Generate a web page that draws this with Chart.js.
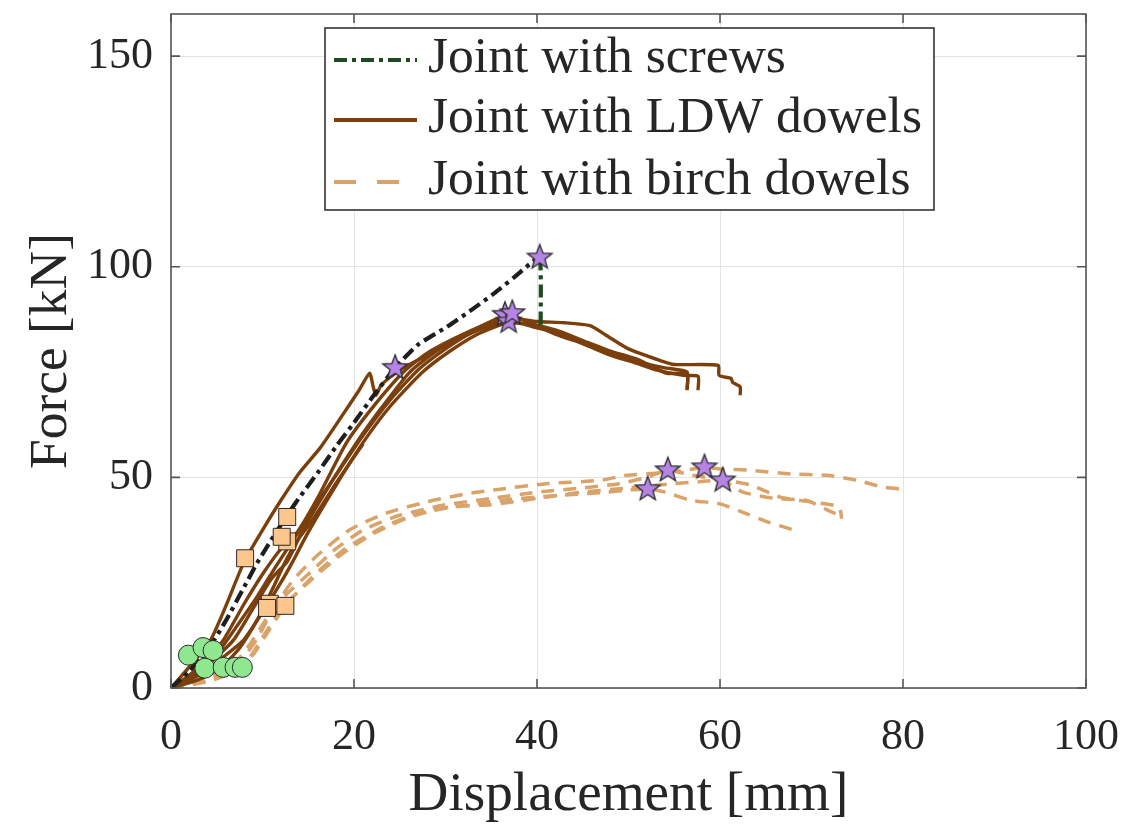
<!DOCTYPE html>
<html><head><meta charset="utf-8">
<script src="https://cdn.jsdelivr.net/npm/chart.js@4.4.0/dist/chart.umd.min.js"></script>
<style>html,body{margin:0;padding:0;background:#fff;}#wrap{width:1127px;height:826px;}</style>
</head><body><div id="wrap"><canvas id="c" width="1127" height="826"></canvas></div>
<script>
// ---------- data ----------
const xTicks = [0, 20, 40, 60, 80, 100];
const yTicks = [0, 50, 100, 150];
const xTitle = 'Displacement [mm]';
const yTitle = 'Force [kN]';
const legendLabels = ['Joint with screws', 'Joint with LDW dowels', 'Joint with birch dowels'];

const screws = [[0,0],[2,4],[4,9],[6,16],[8,24],[9.5,30],[11.5,37],[13.7,44.2],[16,51],[18.1,57.5],[20,63],[22,69],[24.5,76],[27,81.5],[30.2,85.8],[33,90],[35.2,93.5],[37.5,97.5],[39.2,100.6],[40.3,102.2],[40.4,85.5]];

const ldw1 = [[0,0],[2,5],[4.3,11.3],[6,19.5],[8,30],[10,37.5],[12,44.5],[14,51],[16.3,57],[18.5,64],[20.5,70.5],[21.7,74.7],[22.1,71.5],[22.4,69.5],[23,72],[25,75.5],[28,79],[31,82.5],[34,86],[36.5,88.3],[38,87.8],[40,86],[42,84],[44.7,82],[48,79.5],[51,77.5],[54,76],[56.4,75],[56.4,70.7]];
const ldw2 = [[0,0],[2,3],[4,7],[5.7,11.3],[8,20],[10,27],[12,33],[13.8,37],[16,45],[19.2,58.3],[22,66.5],[25.4,75],[28,79.5],[31,83],[34,86],[36.8,87.8],[40,87],[43,86.7],[45.8,86],[47.5,83.8],[50,80.5],[53.4,77.8],[55,76.8],[59.8,76.6],[59.9,74.2],[61.2,73.5],[61.4,72.5],[62.2,71.5],[62.2,69.5]];
const ldw3 = [[0,0],[2.5,3],[4.5,6.5],[6.8,11.3],[9,19],[11,26],[12.7,30],[14.3,37],[17,47],[20.3,58.3],[23,66.5],[26.1,75],[29,80],[32,83.5],[35,86],[37.2,87],[40,85.5],[42.8,84],[45.8,81],[48,79],[51,77],[53,75.5],[56,74.2],[57.6,74],[57.6,70.7]];
const ldw4 = [[0,0],[3,3],[5.5,7],[7.9,11.3],[10,18],[12,25],[13.3,30],[15,37],[18,48],[21,58.3],[24,67],[27.5,75],[30.5,80],[33.5,84],[36.5,86.5],[39,86.5],[42,85],[45,82.5],[48,80],[51,78],[54.2,74.7],[56.4,74.7],[56.4,70.9]];
const ldw5 = [[0,0],[2.5,2.5],[5,8],[7.3,15],[9.5,22],[11.5,29],[13.6,36],[16,44],[18.5,52],[21,60],[24,68.5],[27,75.5],[30,80.5],[33,84.5],[36,87],[37.5,87.5]];
const ldw6 = [[0,0],[3,2],[5.5,5],[7.5,9.5],[9.5,16.5],[11.2,24],[12.5,30],[13.8,35],[15.5,40],[18,48.5],[21,58]];

const birch1 = [[0,0],[2.5,1.5],[5,3.5],[7,6],[8.5,10],[10,15],[11.5,20],[13.5,26],[16,31.5],[19.5,37.5],[23.5,41.5],[28,44.2],[32,46],[36,47.2],[41,48.5],[46.9,49.3],[49.8,50.5],[53,51],[55.6,51.5],[58.3,52.4],[60,52],[63.3,51.7],[67.7,50.8],[71.7,50.5],[75,49.3],[77.8,47.7],[80,47.2]];
const birch2 = [[0,0],[3,1.5],[6,4],[8,7.5],[9.5,12],[11,18],[12.5,22],[15,27],[18,33],[21,37.5],[25,41],[30,43.5],[35,45],[40,46.5],[45,47.5],[49,48.5],[52,50],[54.3,51.7],[57,50.5],[60,49.5],[63.3,48.2],[66.6,45.3],[69.8,44.2],[73,43],[73.3,40.2]];
const birch3 = [[0,0],[3.5,1.5],[6.5,3.5],[8.5,7],[10,12],[11.5,17],[13,21],[15.5,26],[18.5,31.5],[22,36.5],[26,40.5],[30.5,43],[34.9,43.5],[40,45],[45,46.5],[50,47.5],[55,48.5],[58,49],[60.3,49.3],[62.5,46.5],[66,45],[69.5,44.5],[71.7,42.3],[73.5,40.5]];
const birch4 = [[0,0],[4,1.5],[7,4],[9,8],[10.5,13],[12,18],[13.5,22],[16,27.5],[19,33],[23,38],[27,41.5],[31,43],[36,44.5],[41,45.5],[47.7,46.5],[50,47],[52.1,47.2],[54,46.5],[56.7,44.6],[60,43.7],[63,41.3],[65.1,39.5],[67.9,37.6]];

const starPts = [[24.5,76],[40.3,102.2],[36.5,88.6],[36.9,87.0],[37.3,89.0],[52.1,47.2],[54.3,51.7],[58.3,52.4],[60.3,49.3]];
const squarePts = [[8.1,30.8],[12.7,40.6],[12.7,34.8],[12.1,35.9],[10.8,20.0],[12.5,19.5],[10.5,19.0]];
const circlePts = [[1.9,7.8],[3.5,9.6],[4.6,8.9],[3.7,4.7],[5.7,4.9],[7.0,4.9],[7.8,4.9]];

// ---------- style ----------
const FAM = "'Liberation Serif', 'Times New Roman', serif";
const TXT = '#262626';
const C_SCREW = '#1e1e1e', C_SCREW_G = '#1f4a22';
const C_LDW = '#7a3f0c', C_BIRCH = '#d9a36a';

const mctx = document.createElement('canvas').getContext('2d');
function fit(text, target) { mctx.font = '100px ' + FAM; return 100 * target / mctx.measureText(text).width; }
const sXT = fit(xTitle, 440), sYT = fit(yTitle, 236), sTick = fit('150', 66), sLeg = fit(legendLabels[1], 494);

function makeStar(R) {
  const cv = document.createElement('canvas'); const s = Math.ceil(2 * R + 4);
  cv.width = s; cv.height = s; const c = cv.getContext('2d');
  c.beginPath();
  for (let i = 0; i < 10; i++) {
    const r = i % 2 === 0 ? R : R * 0.42; const a = -Math.PI / 2 + i * Math.PI / 5;
    const px = s / 2 + r * Math.cos(a), py = s / 2 + r * Math.sin(a);
    i === 0 ? c.moveTo(px, py) : c.lineTo(px, py);
  }
  c.closePath(); c.fillStyle = '#b684e4'; c.fill(); c.lineWidth = 1.3; c.strokeStyle = '#2a2a2a'; c.stroke();
  return cv;
}
const starImg = makeStar(13);

const pts = a => a.map(p => ({x: p[0], y: p[1]}));
const curve = (arr, color, dash, w, order) => ({data: pts(arr), showLine: true, borderColor: color, borderWidth: w, borderDash: dash, pointRadius: 0, tension: 0.2, order: order, fill: false});

const datasets = [
  {data: pts(starPts), pointStyle: starImg, pointRadius: 13, order: 0},
  {data: pts(squarePts), pointStyle: 'rect', pointRadius: 12, backgroundColor: '#fcc68c', borderColor: '#2a2a2a', borderWidth: 1, order: 0},
  {data: pts(circlePts), pointStyle: 'circle', pointRadius: 10, backgroundColor: '#8fe88f', borderColor: '#2a2a2a', borderWidth: 1, order: 0},
  Object.assign(curve(screws, C_SCREW, [13, 5, 4, 5], 4.2, 1), {segment: {borderColor: c => Math.abs(c.p1.parsed.x - c.p0.parsed.x) < 0.5 ? C_SCREW_G : C_SCREW}}),
  curve(ldw1, C_LDW, [], 3.4, 2), curve(ldw2, C_LDW, [], 3.4, 2), curve(ldw3, C_LDW, [], 3.4, 2), curve(ldw4, C_LDW, [], 3.4, 2), curve(ldw5, C_LDW, [], 3.4, 2), curve(ldw6, C_LDW, [], 3.4, 2),
  curve(birch1, C_BIRCH, [13, 9], 3.5, 3), curve(birch2, C_BIRCH, [13, 9], 3.5, 3), curve(birch3, C_BIRCH, [13, 9], 3.5, 3), curve(birch4, C_BIRCH, [13, 9], 3.5, 3)
];

const framePlugin = {
  id: 'frame',
  afterDatasetsDraw(chart) {
    const {ctx, chartArea: a, scales} = chart;
    ctx.save();
    ctx.strokeStyle = '#555'; ctx.lineWidth = 1.6;
    ctx.strokeRect(a.left, a.top, a.right - a.left, a.bottom - a.top);
    const tl = 9;
    ctx.beginPath();
    xTicks.forEach(v => { const x = scales.x.getPixelForValue(v); ctx.moveTo(x, a.bottom); ctx.lineTo(x, a.bottom - tl); ctx.moveTo(x, a.top); ctx.lineTo(x, a.top + tl); });
    yTicks.forEach(v => { const y = scales.y.getPixelForValue(v); ctx.moveTo(a.left, y); ctx.lineTo(a.left + tl, y); ctx.moveTo(a.right, y); ctx.lineTo(a.right - tl, y); });
    ctx.stroke();
    // legend
    const L = 325, T = 28, R = 934, B = 210;
    ctx.fillStyle = '#fff'; ctx.fillRect(L, T, R - L, B - T);
    ctx.strokeStyle = '#333'; ctx.lineWidth = 1.6; ctx.strokeRect(L, T, R - L, B - T);
    const rows = [58, 118, 180];
    const styles = [[C_SCREW_G, [13, 5, 4, 5], 4], [C_LDW, [], 4], [C_BIRCH, [22, 21], 4]];
    rows.forEach((y, i) => {
      ctx.beginPath(); ctx.strokeStyle = styles[i][0]; ctx.setLineDash(styles[i][1]); ctx.lineWidth = styles[i][2];
      ctx.moveTo(334, y + 2); ctx.lineTo(417, y + 2); ctx.stroke();
    });
    ctx.setLineDash([]);
    ctx.fillStyle = TXT; ctx.font = sLeg + 'px ' + FAM; ctx.textBaseline = 'middle'; ctx.textAlign = 'left';
    rows.forEach((y, i) => ctx.fillText(legendLabels[i], 428, y));
    ctx.restore();
  }
};

new Chart(document.getElementById('c'), {
  type: 'scatter',
  data: {datasets},
  plugins: [framePlugin],
  options: {
    responsive: false, animation: false,
    layout: {padding: {top: 7, right: 41, left: 0, bottom: 0}},
    plugins: {legend: {display: false}, tooltip: {enabled: false}},
    scales: {
      x: {type: 'linear', min: 0, max: 100,
        afterBuildTicks: s => { s.ticks = xTicks.map(v => ({value: v})); },
        afterFit: s => { s.height = 138; s.paddingLeft = 0; s.paddingRight = 0; },
        grid: {color: '#e4e4e4', drawTicks: false}, border: {display: false},
        ticks: {padding: 23, color: TXT, font: {family: FAM, size: sTick}},
        title: {display: true, text: xTitle, color: TXT, font: {family: FAM, size: sXT}, padding: {top: 0, bottom: -3}}},
      y: {type: 'linear', min: 0, max: 160,
        afterBuildTicks: s => { s.ticks = yTicks.map(v => ({value: v})); },
        afterFit: s => { s.width = 171; s.paddingTop = 0; s.paddingBottom = 0; },
        grid: {color: '#e4e4e4', drawTicks: false}, border: {display: false},
        ticks: {padding: 18, color: TXT, font: {family: FAM, size: sTick}},
        title: {display: true, text: yTitle, color: TXT, font: {family: FAM, size: sYT}, padding: {top: 20, bottom: 0}}}
    }
  }
});
</script></body></html>
